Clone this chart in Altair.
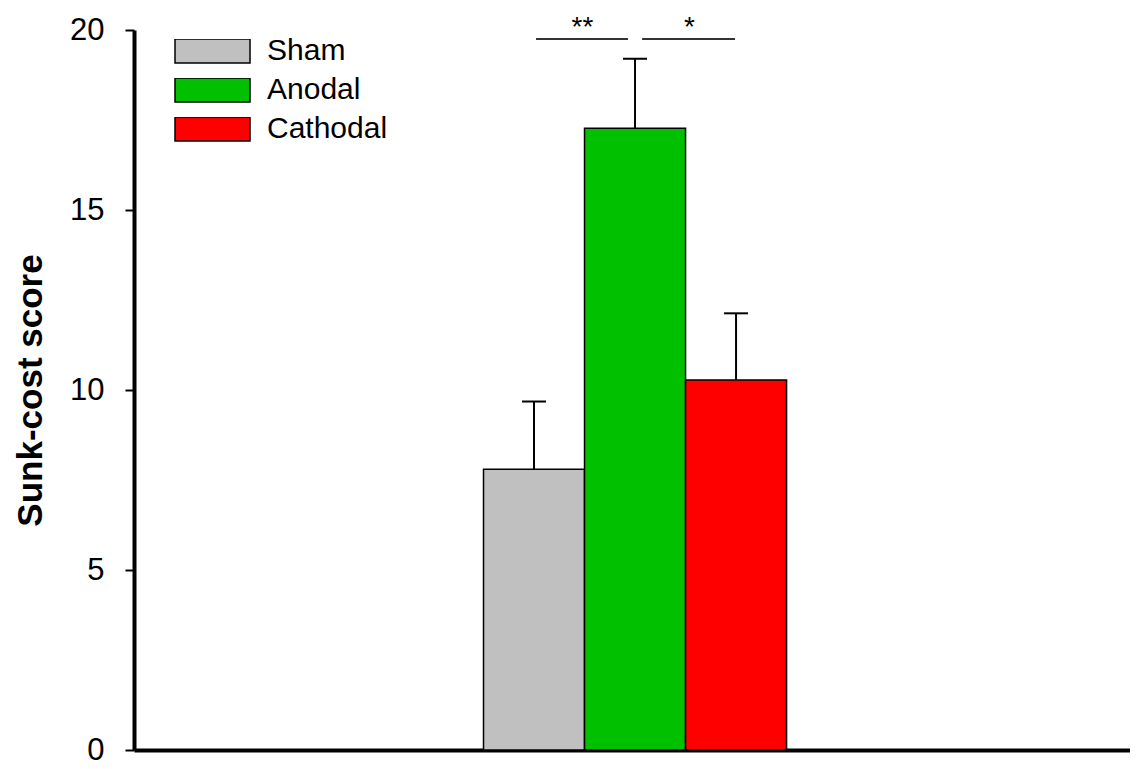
import altair as alt
import pandas as pd

# Data
groups = ["Sham", "Anodal", "Cathodal"]
positions = [1, 2, 3]
means = [7.8, 17.27, 10.28]
errors = [1.88, 1.93, 1.85]
colors = ["#C0C0C0", "#00C000", "#FF0000"]

# Significance annotations
sig_labels = ["**", "*"]
sig_x_start = [1.02, 2.07]
sig_x_end = [1.93, 2.99]
sig_y = [19.75, 19.75]
star_x = [1.48, 2.54]
star_y = [20.2, 20.2]

y_ticks = [0, 5, 10, 15, 20]

df = pd.DataFrame({
    "group": groups,
    "pos": positions,
    "mean": means,
    "err": errors,
})
df["left"] = df["pos"] - 0.5
df["right"] = df["pos"] + 0.5
df["upper"] = df["mean"] + df["err"]

sig_df = pd.DataFrame({
    "label": sig_labels,
    "x1": sig_x_start,
    "x2": sig_x_end,
    "y": sig_y,
    "sx": star_x,
    "sy": star_y,
})

FONT = "Liberation Sans"

x_scale = alt.Scale(domain=[-2.96, 6.90], nice=False, zero=False)
y_scale = alt.Scale(domain=[0, 20], nice=False)

x_axis = alt.Axis(
    title=None, labels=False, ticks=False, grid=False,
    domainWidth=4, domainColor="black",
)
y_axis = alt.Axis(
    title="Sunk-cost score", values=y_ticks, grid=False,
    domainWidth=4, domainColor="black",
    tickWidth=2, tickSize=9, tickColor="black",
    labelFont=FONT, labelFontSize=31, labelColor="black", labelPadding=21,
    titleFont=FONT, titleFontSize=35, titleFontWeight="bold", titleColor="black",
    titlePadding=21,
)

legend = alt.Legend(
    title=None, orient="none", legendX=40, legendY=9,
    symbolType="M-1,-0.32H1V0.32H-1Z", symbolSize=5625,
    symbolStrokeColor="black", symbolStrokeWidth=1.5, symbolOpacity=1,
    labelFont=FONT, labelFontSize=30, labelColor="black", labelOffset=16,
    clipHeight=24, rowPadding=9,
)

bars = alt.Chart(df).mark_bar(stroke="black", strokeWidth=1.5, opacity=1).encode(
    x=alt.X("left:Q", scale=x_scale, axis=x_axis),
    x2="right:Q",
    y=alt.Y("mean:Q", scale=y_scale, axis=y_axis),
    y2=alt.datum(0),
    color=alt.Color("group:N", scale=alt.Scale(domain=groups, range=colors), legend=legend),
)

err_line = alt.Chart(df).mark_rule(color="black", strokeWidth=2).encode(
    x="pos:Q", y="mean:Q", y2="upper:Q",
)
err_cap = alt.Chart(df).mark_tick(
    color="black", orient="horizontal", size=24, thickness=2, opacity=1
).encode(x="pos:Q", y="upper:Q")

sig_lines = alt.Chart(sig_df).mark_rule(color="#333333", strokeWidth=2).encode(
    x="x1:Q", x2="x2:Q", y="y:Q",
)
sig_text = alt.Chart(sig_df).mark_text(
    font=FONT, fontSize=28, color="black", baseline="middle", align="center", dy=5
).encode(x="sx:Q", y="sy:Q", text="label:N")

chart = alt.layer(bars, err_line, err_cap, sig_lines, sig_text).properties(
    width=996, height=720,
    background="white",
    autosize=alt.AutoSizeParams(type="none"),
    padding={"left": 126, "top": 22, "right": 0, "bottom": 19},
).configure_view(strokeWidth=0, stroke="transparent").configure_axis(grid=False)

chart.save("out.html", embed_options={"renderer": "svg", "actions": False})
